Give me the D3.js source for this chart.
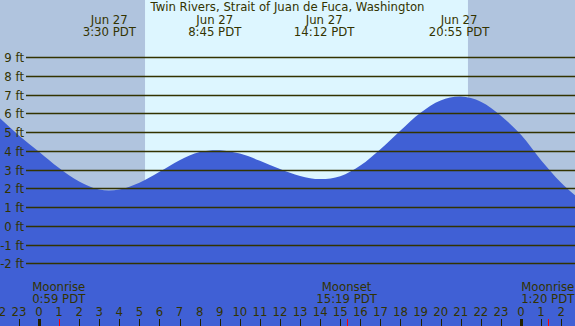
<!DOCTYPE html>
<html>
<head>
<meta charset="utf-8">
<script src="https://cdn.jsdelivr.net/npm/d3@7"></script>
<style>
  html, body { margin: 0; padding: 0; background: #fff; }
  svg { display: block; }
  text { font-family: "DejaVu Sans", Verdana, sans-serif; fill: #333300; }
</style>
</head>
<body>
<svg id="chart" width="575" height="326"></svg>
<script>
// ---- data ----
const title = "Twin Rivers, Strait of Juan de Fuca, Washington";
// hours relative to midnight Jun 27 (PDT)
const hours = [-3,-2,-1,0,1,2,3,4,5,6,7,8,9,10,11,12,13,14,15,16,17,18,19,20,21,22,23,24,25,26,27];
const heights = [6.7,5.79,4.82,3.95,3.08,2.36,1.93,1.93,2.29,2.88,3.5,3.93,4.03,3.85,3.47,3.03,2.66,2.49,2.64,3.21,4.08,5.08,6.03,6.68,6.89,6.62,5.87,4.85,3.5,2.3,1.35];
const tideHours = [3.5, 8.75, 14.2, 20.917];
const tideDates = ["Jun 27", "Jun 27", "Jun 27", "Jun 27"];
const tideTimes = ["3:30 PDT", "8:45 PDT", "14:12 PDT", "20:55 PDT"];
const sunrise = 5.28, sunset = 21.36;
const moonHours = [0.983, 15.317, 25.333];
const moonEvents = ["Moonrise", "Moonset", "Moonrise"];
const moonTimes = ["0:59 PDT", "15:19 PDT", "1:20 PDT"];
const feetTicks = [9,8,7,6,5,4,3,2,1,0,-1,-2];
const feetLabels = ["9 ft","8 ft","7 ft","6 ft","5 ft","4 ft","3 ft","2 ft","1 ft","0 ft","-1 ft","-2 ft"];
const hourTicks = d3.range(-2, 27);
const hourLabels = ["22","23","0","1","2","3","4","5","6","7","8","9","10","11","12","13","14","15","16","17","18","19","20","21","22","23","0","1","2"];

// ---- layout ----
const W = 575, H = 326, FS = 11.7;
const svg = d3.select("#chart");
const x = d3.scaleLinear().domain([-1.942, 26.69]).range([0, W]);
const y = d3.scaleLinear().domain([-2, 9]).range([263.3, 57.05]);

// night / day background
svg.append("rect").attr("x", 0).attr("y", 0).attr("width", W).attr("height", H).attr("fill", "#b0c4de");
svg.append("rect").attr("x", x(sunrise)).attr("y", 0)
  .attr("width", x(sunset) - x(sunrise)).attr("height", H).attr("fill", "#ddf6ff");

// water area
const pts = hours.map((h, i) => [h, heights[i]]);
const area = d3.area()
  .x(d => x(d[0]))
  .y0(H + 5)
  .y1(d => y(d[1]))
  .curve(d3.curveCatmullRom.alpha(0.5));
svg.append("path").datum(pts).attr("d", area).attr("fill", "#4060d5");

// grid lines
const gy = svg.append("g");
feetTicks.forEach((f, i) => {
  const yy = Math.round(y(f)) + 0.5;
  gy.append("line").attr("x1", 26).attr("x2", W).attr("y1", yy).attr("y2", yy)
    .attr("stroke", "#333300").attr("stroke-width", 1.3);
  gy.append("text").attr("x", 24).attr("y", yy + 4.5).attr("text-anchor", "end")
    .attr("font-size", FS).text(feetLabels[i]);
});

// title
svg.append("text").attr("x", W / 2).attr("y", 11).attr("text-anchor", "middle")
  .attr("font-size", FS).text(title);

// tide labels
tideHours.forEach((t, i) => {
  svg.append("text").attr("x", x(t)).attr("y", 23.5).attr("text-anchor", "middle")
    .attr("font-size", FS).text(tideDates[i]);
  svg.append("text").attr("x", x(t)).attr("y", 35.5).attr("text-anchor", "middle")
    .attr("font-size", FS).text(tideTimes[i]);
});

// moon labels
moonHours.forEach((t, i) => {
  svg.append("text").attr("x", x(t)).attr("y", 291).attr("text-anchor", "middle")
    .attr("font-size", FS).text(moonEvents[i]);
  svg.append("text").attr("x", x(t)).attr("y", 303).attr("text-anchor", "middle")
    .attr("font-size", FS).text(moonTimes[i]);
});

// hour axis
hourTicks.forEach((h, i) => {
  const xx = Math.round(x(h)) + 0.5;
  const midnight = (h % 24 === 0);
  svg.append("line").attr("x1", xx).attr("x2", xx).attr("y1", 319).attr("y2", H)
    .attr("stroke", "#222200").attr("stroke-width", midnight ? 3 : 1);
  svg.append("text").attr("x", x(h)).attr("y", 315.5).attr("text-anchor", "middle")
    .attr("font-size", FS).text(hourLabels[i]);
});
moonHours.forEach(t => {
  const xx = Math.round(x(t)) + 0.5;
  svg.append("line").attr("x1", xx).attr("x2", xx).attr("y1", 319).attr("y2", H)
    .attr("stroke", "#ff0000").attr("stroke-width", 1);
});
</script>
</body>
</html>
